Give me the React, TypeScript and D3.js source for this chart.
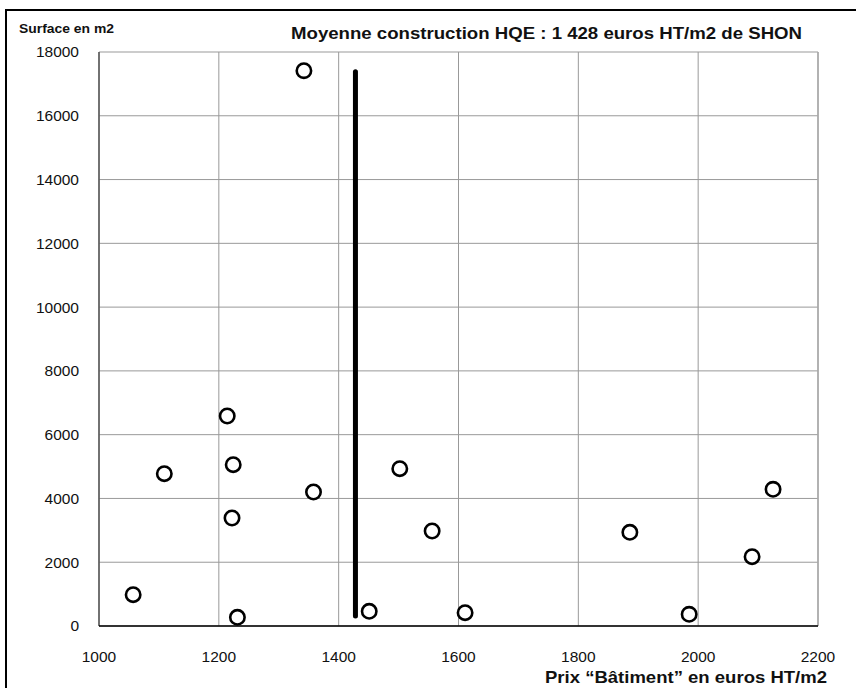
import React from "react";
import * as d3 from "d3";

const prices = [1342, 1214, 1109, 1224, 1358, 1222, 1057, 1231, 1451, 1502, 1556, 1611, 1886, 1985, 2090, 2125];
const surfaces = [17413, 6585, 4776, 5059, 4202, 3387, 982, 272, 460, 4933, 2979, 417, 2938, 367, 2174, 4287];
const meanPrice = 1428;
const meanLineY = [310, 17380];
const xTicks = [1000, 1200, 1400, 1600, 1800, 2000, 2200];
const yTicks = [0, 2000, 4000, 6000, 8000, 10000, 12000, 14000, 16000, 18000];
const title = "Moyenne construction HQE : 1 428 euros HT/m2 de SHON";
const yTitle = "Surface en m2";
const xTitle = "Prix \u201cB\u00e2timent\u201d en euros HT/m2";

const W = 856;
const H = 688;
const left = 99, right = 818, top = 52, bottom = 626;

export default function App() {
  const x = d3.scaleLinear().domain([1000, 2200]).range([left, right]);
  const y = d3.scaleLinear().domain([0, 18000]).range([bottom, top]);
  const line = d3.line<number>().x(() => x(meanPrice)).y((d) => y(d));
  const font = "Liberation Sans, Arial, Helvetica, sans-serif";
  return (
    <svg width={W} height={H} style={{ position: "absolute", left: 0, top: 0, background: "#fff" }} fontFamily={font}>
      <rect x={0} y={0} width={W} height={H} fill="#fff" />
      <rect x={6} y={10} width={W + 10} height={H + 10} fill="none" stroke="#000" strokeWidth={2} />
      {yTicks.map((t) => (
        <line key={"gy" + t} x1={left} x2={right} y1={y(t)} y2={y(t)} stroke="#999" strokeWidth={1} />
      ))}
      {xTicks.map((t) => (
        <line key={"gx" + t} x1={x(t)} x2={x(t)} y1={top} y2={bottom} stroke="#999" strokeWidth={1} />
      ))}
      <line x1={right} x2={right} y1={top} y2={bottom} stroke="#aaa" strokeWidth={1.5} />
      <line x1={left} x2={left} y1={top} y2={bottom} stroke="#555" strokeWidth={1.5} />
      <line x1={left} x2={right} y1={bottom} y2={bottom} stroke="#000" strokeWidth={1.5} />
      {yTicks.map((t) => (
        <text key={"ty" + t} x={79} y={y(t)} dy="0.35em" textAnchor="end" fontSize={15.5} fill="#111">
          {t}
        </text>
      ))}
      {xTicks.map((t) => (
        <text key={"tx" + t} x={x(t)} y={662} textAnchor="middle" fontSize={15.5} fill="#111">
          {t}
        </text>
      ))}
      <path d={line(meanLineY) || ""} stroke="#000" strokeWidth={5} strokeLinecap="round" fill="none" />
      {prices.map((p, i) => (
        <circle key={i} cx={x(p)} cy={y(surfaces[i])} r={7.2} fill="#fff" stroke="#000" strokeWidth={2.6} />
      ))}
      <text x={291} y={39} fontSize={17} fontWeight="bold" fill="#111" textLength={511} lengthAdjust="spacingAndGlyphs">{title}</text>
      <text x={19} y={33} fontSize={12} fontWeight="bold" fill="#111" textLength={95} lengthAdjust="spacingAndGlyphs">{yTitle}</text>
      <text x={545} y={683} fontSize={16.5} fontWeight="bold" fill="#111" textLength={282} lengthAdjust="spacingAndGlyphs">{xTitle}</text>
    </svg>
  );
}
